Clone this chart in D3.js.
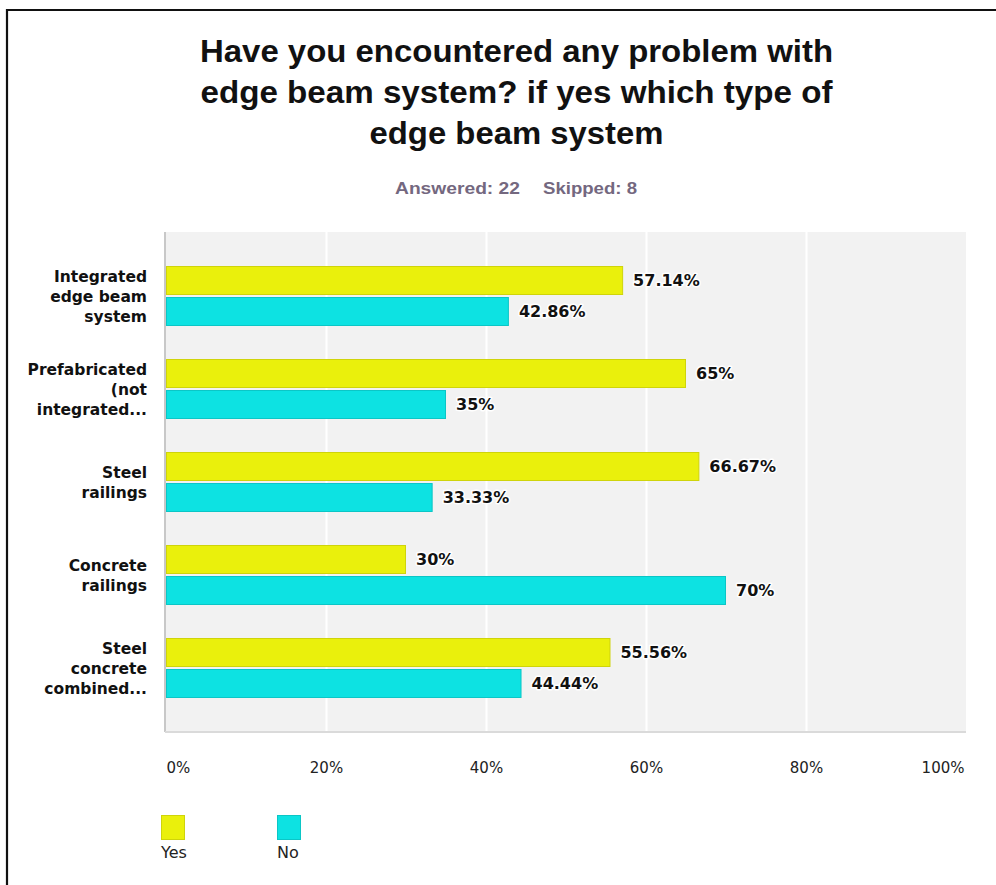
<!DOCTYPE html>
<html>
<head>
<meta charset="utf-8">
<script src="https://cdn.jsdelivr.net/npm/d3@7"></script>
<style>
  html, body { margin: 0; padding: 0; background: #ffffff; }
  svg { display: block; }
</style>
</head>
<body>
<svg id="chart" width="996" height="885"></svg>
<script>
// ---- data ----
const titleLines = [
  "Have you encountered any problem with",
  "edge beam system? if yes which type of",
  "edge beam system"
];
const answeredText = "Answered: 22";
const skippedText = "Skipped: 8";
const categories = [
  "Integrated\nedge beam\nsystem",
  "Prefabricated\n(not\nintegrated...",
  "Steel\nrailings",
  "Concrete\nrailings",
  "Steel\nconcrete\ncombined..."
];
const seriesNames = ["Yes", "No"];
const yesValues = [57.14, 65, 66.67, 30, 55.56];
const noValues = [42.86, 35, 33.33, 70, 44.44];
const tickValues = [0, 20, 40, 60, 80, 100];
const tickLabels = ["0%", "20%", "40%", "60%", "80%", "100%"];
const colors = { Yes: "#eaf00c", No: "#0de2e2" };
const strokes = { Yes: "#cfd40a", No: "#0bc6c6" };

// ---- layout ----
const svg = d3.select("#chart");
const plot = { left: 165, right: 966, top: 232, bottom: 732 };

// frame
svg.append("path")
  .attr("d", "M7,885 V10 H996")
  .attr("fill", "none")
  .attr("stroke", "#111")
  .attr("stroke-width", 2.2);

// title
const titleWidths = [633, 632, 294];
const titleBase = [62, 103, 144];
titleLines.forEach((t, i) => {
  svg.append("text")
    .attr("x", 516.5).attr("y", titleBase[i])
    .attr("text-anchor", "middle")
    .attr("font-family", "'Liberation Sans', Arial, sans-serif")
    .attr("font-weight", "bold")
    .attr("font-size", 32)
    .attr("fill", "#111")
    .attr("textLength", titleWidths[i])
    .attr("lengthAdjust", "spacingAndGlyphs")
    .text(t);
});
// answered / skipped
svg.append("text")
  .attr("x", 395).attr("y", 194)
  .attr("font-family", "'Liberation Sans', Arial, sans-serif")
  .attr("font-weight", "bold").attr("font-size", 17)
  .attr("fill", "#74687f")
  .attr("textLength", 125).attr("lengthAdjust", "spacingAndGlyphs")
  .text(answeredText);
svg.append("text")
  .attr("x", 543).attr("y", 194)
  .attr("font-family", "'Liberation Sans', Arial, sans-serif")
  .attr("font-weight", "bold").attr("font-size", 17)
  .attr("fill", "#74687f")
  .attr("textLength", 94).attr("lengthAdjust", "spacingAndGlyphs")
  .text(skippedText);

// scales
const x = d3.scaleLinear().domain([0, 100]).range([166, 966]);
const y0 = d3.scaleBand().domain(categories)
  .range([plot.top, plot.bottom])
  .paddingInner(0.3548).paddingOuter(0.3656);
const y1 = d3.scaleBand().domain(seriesNames)
  .range([0, y0.bandwidth()]).paddingInner(0.0645);

// plot background
svg.append("rect")
  .attr("x", plot.left).attr("y", plot.top)
  .attr("width", plot.right - plot.left).attr("height", plot.bottom - plot.top)
  .attr("fill", "#f2f2f2");

// grid lines
const grid = svg.append("g")
  .attr("transform", `translate(0,${plot.bottom})`)
  .call(d3.axisBottom(x).tickValues(tickValues.slice(1, -1)).tickSize(-(plot.bottom - plot.top)).tickFormat(""));
grid.select(".domain").remove();
grid.selectAll("line").attr("stroke", "#ffffff").attr("stroke-width", 2);

// axis lines
svg.append("line")
  .attr("x1", plot.left).attr("x2", plot.left)
  .attr("y1", plot.top).attr("y2", plot.bottom)
  .attr("stroke", "#c8c8c8").attr("stroke-width", 2);
svg.append("line")
  .attr("x1", plot.left).attr("x2", plot.right)
  .attr("y1", plot.bottom).attr("y2", plot.bottom)
  .attr("stroke", "#dadada").attr("stroke-width", 2);

// bars
const rows = categories.map((c, i) => ({ cat: c, vals: [
  { key: "Yes", v: yesValues[i] }, { key: "No", v: noValues[i] } ] }));

const groups = svg.append("g").selectAll("g")
  .data(rows).join("g")
  .attr("transform", d => `translate(0,${y0(d.cat)})`);

groups.selectAll("rect")
  .data(d => d.vals).join("rect")
  .attr("x", x(0) + 0.5)
  .attr("y", d => y1(d.key) + 0.5)
  .attr("width", d => x(d.v) - x(0) - 1)
  .attr("height", y1.bandwidth() - 1)
  .attr("fill", d => colors[d.key])
  .attr("stroke", d => strokes[d.key])
  .attr("stroke-width", 1);

groups.selectAll("text.val")
  .data(d => d.vals).join("text")
  .attr("class", "val")
  .attr("x", d => x(d.v) + 10)
  .attr("y", d => y1(d.key) + y1.bandwidth() / 2)
  .attr("dy", "0.36em")
  .attr("font-family", "'DejaVu Sans', Verdana, sans-serif")
  .attr("font-weight", "bold")
  .attr("font-size", 16)
  .attr("fill", "#111")
  .attr("stroke", "#ffffff")
  .attr("stroke-width", 3)
  .attr("stroke-linejoin", "round")
  .attr("paint-order", "stroke")
  .text(d => d.v + "%");

// category labels
const catG = svg.append("g");
categories.forEach(c => {
  const lines = c.split("\n");
  const cy = y0(c) + y0.bandwidth() / 2;
  const lh = 20;
  const t = catG.append("text")
    .attr("text-anchor", "end")
    .attr("font-family", "'DejaVu Sans', Verdana, sans-serif")
    .attr("font-weight", "bold")
    .attr("font-size", 15.5)
    .attr("fill", "#111");
  lines.forEach((ln, j) => {
    t.append("tspan")
      .attr("x", 147)
      .attr("y", cy + (j - (lines.length - 1) / 2) * lh)
      .attr("dy", "0.36em")
      .text(ln);
  });
});

// x axis tick labels
const xAxis = svg.append("g")
  .attr("transform", `translate(0,${plot.bottom})`)
  .call(d3.axisBottom(x).tickValues(tickValues).tickSize(0).tickPadding(30)
    .tickFormat((d, i) => tickLabels[i]));
xAxis.select(".domain").remove();
xAxis.selectAll("text")
  .attr("font-family", "'DejaVu Sans', Verdana, sans-serif")
  .attr("font-size", 15)
  .attr("fill", "#222")
  .attr("text-anchor", (d, i) => i === 0 ? "start" : (i === tickValues.length - 1 ? "end" : "middle"))
  .attr("dx", (d, i) => i === tickValues.length - 1 ? -2 : 0);

// legend
const legend = svg.append("g");
const legendX = [161, 277];
seriesNames.forEach((s, i) => {
  legend.append("rect")
    .attr("x", legendX[i] + 0.5).attr("y", 815.5)
    .attr("width", 23).attr("height", 24)
    .attr("fill", colors[s]).attr("stroke", strokes[s]);
  legend.append("text")
    .attr("x", legendX[i]).attr("y", 858)
    .attr("font-family", "'DejaVu Sans', Verdana, sans-serif")
    .attr("font-size", 16)
    .attr("fill", "#222")
    .text(s);
});
</script>
</body>
</html>
